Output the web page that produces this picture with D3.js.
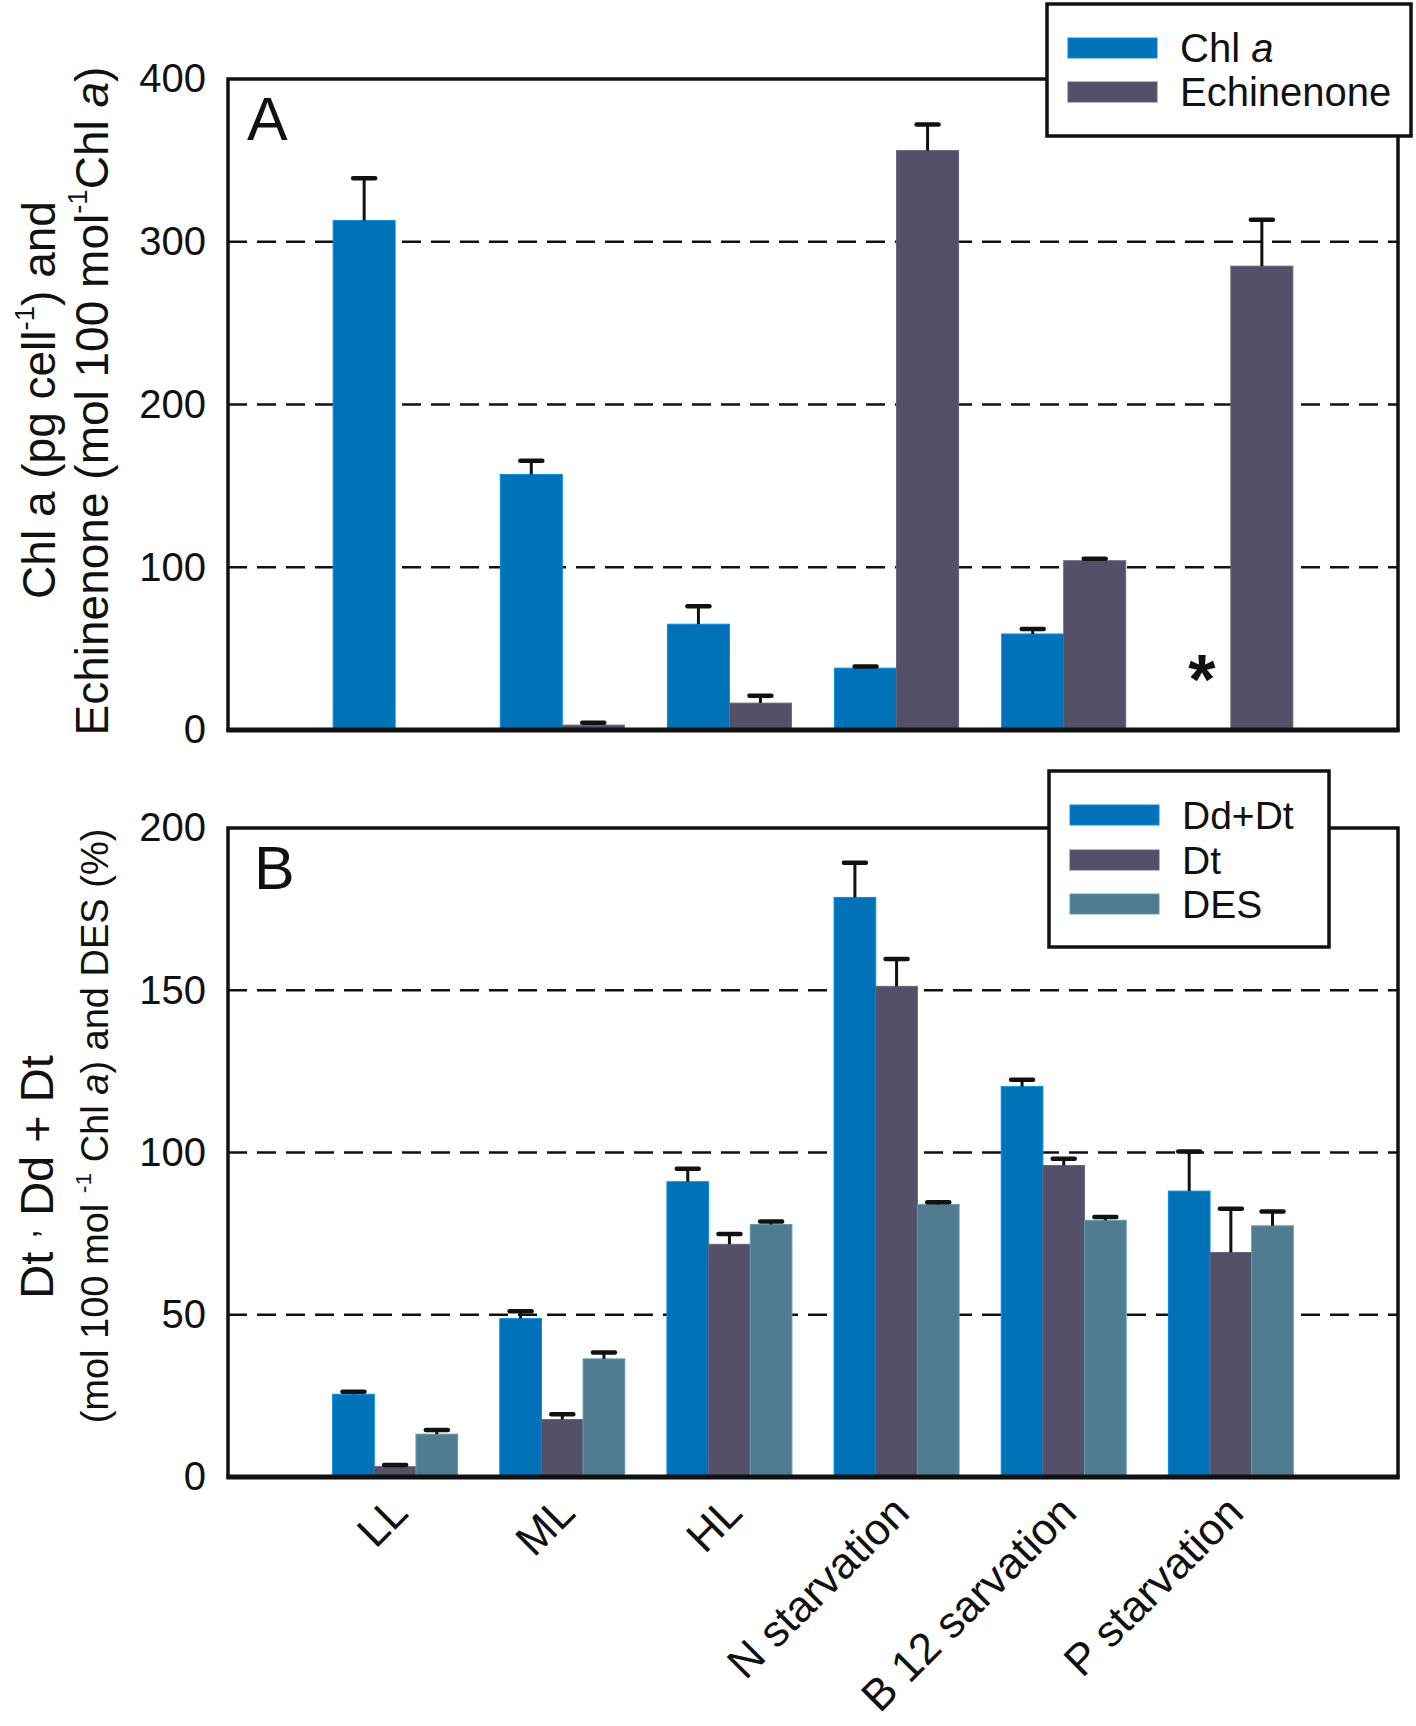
<!DOCTYPE html>
<html><head><meta charset="utf-8">
<script src="https://cdn.jsdelivr.net/npm/d3@7"></script>
<style>
body{margin:0;background:#fff}
svg{display:block}
text{font-family:"Liberation Sans",Arial,sans-serif;fill:#111}
</style>
</head><body>
<svg id="chart" width="1416" height="1726"></svg>
<script>
// data
const categories = ["LL", "ML", "HL", "N starvation", "B 12 sarvation", "P starvation"];
const chlA          = [313, 157, 65, 38, 59, null];
const chlAErr       = [26, 8.5, 11, 1, 3, null];
const echinenone    = [null, 3, 16.5, 356, 104, 285];
const echinenoneErr = [null, 1.5, 4.5, 16, 1.2, 28.5];
const ddDt    = [25.5, 48.8, 91, 178.6, 120.3, 88.1];
const ddDtErr = [0.8, 2.3, 4, 10.7, 2.1, 12.2];
const dt      = [3.2, 17.7, 71.7, 151.2, 96, 69.2];
const dtErr   = [0.5, 1.6, 3.2, 8.4, 2.1, 13.5];
const des     = [13.2, 36.4, 77.8, 84, 79.1, 77.4];
const desErr  = [1.3, 2, 0.9, 0.7, 1, 4.4];
const ticksA = [0, 100, 200, 300, 400];
const gridA  = [100, 200, 300];
const ticksB = [0, 50, 100, 150, 200];
const gridB  = [50, 100, 150];
// missing Chl a value for P starvation is flagged with an asterisk
const asteriskAt = {cat: "P starvation", value: 38};

const colors = {blue: "#0072b8", dark: "#535067", teal: "#4f7c8e"};

const svg = d3.select("#chart");
const left = 228, right = 1398;

const x = d3.scaleBand().domain(categories).range([left, right])
  .paddingInner(0).paddingOuter(0.5);

const yA = d3.scaleLinear().domain([0, 400]).range([730, 79]);
const yB = d3.scaleLinear().domain([0, 200]).range([1477, 828]);

const seriesA = [
  {key: "Chl a", vals: chlA, err: chlAErr, color: colors.blue},
  {key: "Echinenone", vals: echinenone, err: echinenoneErr, color: colors.dark}
];
const seriesB = [
  {key: "Dd+Dt", vals: ddDt, err: ddDtErr, color: colors.blue},
  {key: "Dt", vals: dt, err: dtErr, color: colors.dark},
  {key: "DES", vals: des, err: desErr, color: colors.teal}
];

function drawPanel(y, series, halfWidth, grid, ticks) {
  const g = svg.append("g");
  const sub = d3.scaleBand().domain(series.map(s => s.key)).range([-halfWidth, halfWidth]);
  const [y0, y1] = y.range();

  // dashed grid
  g.selectAll("line.grid").data(grid).enter().append("line")
    .attr("x1", left).attr("x2", right)
    .attr("y1", d => y(d)).attr("y2", d => y(d))
    .attr("stroke", "#111").attr("stroke-width", 2.6)
    .attr("stroke-dasharray", "19 10");

  series.forEach(s => {
    const rows = categories.map((c, i) => ({c, v: s.vals[i], e: s.err[i]}))
      .filter(d => d.v != null);
    g.selectAll(null).data(rows).enter().append("rect")
      .attr("x", d => x(d.c) + x.bandwidth() / 2 + sub(s.key))
      .attr("width", sub.bandwidth())
      .attr("y", d => y(d.v))
      .attr("height", d => y(0) - y(d.v))
      .attr("fill", s.color)
      .attr("stroke", d3.color(s.color).brighter(0.6))
      .attr("stroke-width", 1);

    const eb = rows.filter(d => d.e);
    const cx = d => x(d.c) + x.bandwidth() / 2 + sub(s.key) + sub.bandwidth() / 2;
    g.selectAll(null).data(eb).enter().append("line")
      .attr("x1", cx).attr("x2", cx)
      .attr("y1", d => y(d.v)).attr("y2", d => y(d.v + d.e))
      .attr("stroke", "#111").attr("stroke-width", 3);
    g.selectAll(null).data(eb).enter().append("line")
      .attr("x1", d => cx(d) - 11).attr("x2", d => cx(d) + 11)
      .attr("y1", d => y(d.v + d.e)).attr("y2", d => y(d.v + d.e))
      .attr("stroke", "#111").attr("stroke-width", 4.5)
      .attr("stroke-linecap", "round");
  });

  // frame
  g.append("rect").attr("x", left).attr("y", y1)
    .attr("width", right - left).attr("height", y0 - y1)
    .attr("fill", "none").attr("stroke", "#111").attr("stroke-width", 3.5);
  g.append("line").attr("x1", left - 1.5).attr("x2", right + 1.5)
    .attr("y1", y0).attr("y2", y0)
    .attr("stroke", "#111").attr("stroke-width", 5);

  // y axis labels
  const ax = g.append("g").attr("transform", `translate(${left},0)`)
    .call(d3.axisLeft(y).tickValues(ticks).tickSize(0).tickPadding(22));
  ax.select(".domain").remove();
  ax.selectAll("text").attr("font-size", 40).attr("fill", "#111")
    .style("font-family", '"Liberation Sans",Arial,sans-serif');
  return g;
}

drawPanel(yA, seriesA, 62, gridA, ticksA);
drawPanel(yB, seriesB, 62.5, gridB, ticksB);

// asterisk in panel A
{
  const subA = d3.scaleBand().domain(seriesA.map(s => s.key)).range([-62, 62]);
  svg.append("text")
    .attr("x", x(asteriskAt.cat) + x.bandwidth() / 2 + subA("Chl a") + subA.bandwidth() / 2 + 2)
    .attr("y", yA(asteriskAt.value) + 36)
    .attr("text-anchor", "middle")
    .attr("font-size", 70).attr("font-weight", "bold")
    .text("*");
}

// x axis category labels
const xAxis = svg.append("g").attr("transform", "translate(0,1477)")
  .call(d3.axisBottom(x).tickSize(0));
xAxis.select(".domain").remove();
xAxis.selectAll("text")
  .attr("y", 0).attr("dy", 0)
  .attr("transform", "translate(15,38) rotate(-45)")
  .style("text-anchor", "end")
  .style("font-family", '"Liberation Sans",Arial,sans-serif')
  .attr("font-size", 44).attr("fill", "#111");

// panel letters
svg.append("text").attr("x", 247).attr("y", 140).attr("font-size", 61).text("A");
svg.append("text").attr("x", 254).attr("y", 889).attr("font-size", 61).text("B");

// legends
function legend(bx, by, w, h, series, swY, size, labels) {
  const g = svg.append("g");
  g.append("rect").attr("x", bx).attr("y", by).attr("width", w).attr("height", h)
    .attr("fill", "#fff").attr("stroke", "#111").attr("stroke-width", 3.5);
  series.forEach((s, i) => {
    g.append("rect").attr("x", bx + 21).attr("y", swY[i]).attr("width", 89).attr("height", 20)
      .attr("fill", s.color).attr("stroke", d3.color(s.color).brighter(0.6)).attr("stroke-width", 1);
    const t = g.append("text").attr("x", bx + 133).attr("y", swY[i] + 24).attr("font-size", size);
    labels[i](t);
  });
}
legend(1047, 4, 364, 132, seriesA, [38, 82], 40, [
  t => { t.append("tspan").text("Chl "); t.append("tspan").attr("font-style", "italic").text("a"); },
  t => t.text("Echinenone")
]);
legend(1049, 771, 280, 176, seriesB, [805, 850, 894], 39, [
  t => t.text("Dd+Dt"), t => t.text("Dt"), t => t.text("DES")
]);

// y titles
function sup(t) {
  t.append("tspan").attr("font-size", "0.6em").attr("dy", "-0.75em").text("-1");
  return t.append("tspan").attr("dy", "0.45em");
}
function ytitle(bx, cy, size, build) {
  const t = svg.append("text")
    .attr("transform", `translate(${bx},${cy}) rotate(-90)`)
    .attr("text-anchor", "middle").attr("font-size", size);
  build(t);
}
ytitle(55, 400, 46, t => {
  t.append("tspan").text("Chl a (pg cell");
  sup(t).text(") and");
});
ytitle(108, 401, 46, t => {
  t.append("tspan").text("Echinenone (mol 100 mol");
  sup(t).text("Chl ");
  t.append("tspan").attr("font-style", "italic").text("a");
  t.append("tspan").text(")");
});
ytitle(53, 1177, 47, t => {
  t.append("tspan").text("Dt ");
  t.append("tspan").attr("font-size", "0.75em").attr("dy", "-0.45em").text(",");
  t.append("tspan").attr("dy", "0.34em").text("  Dd + Dt");
});
ytitle(108, 1126, 38, t => {
  t.append("tspan").text("(mol 100 mol ");
  sup(t).text(" Chl ");
  t.append("tspan").attr("font-style", "italic").text("a");
  t.append("tspan").text(") and DES (%)");
});
</script>
</body></html>
